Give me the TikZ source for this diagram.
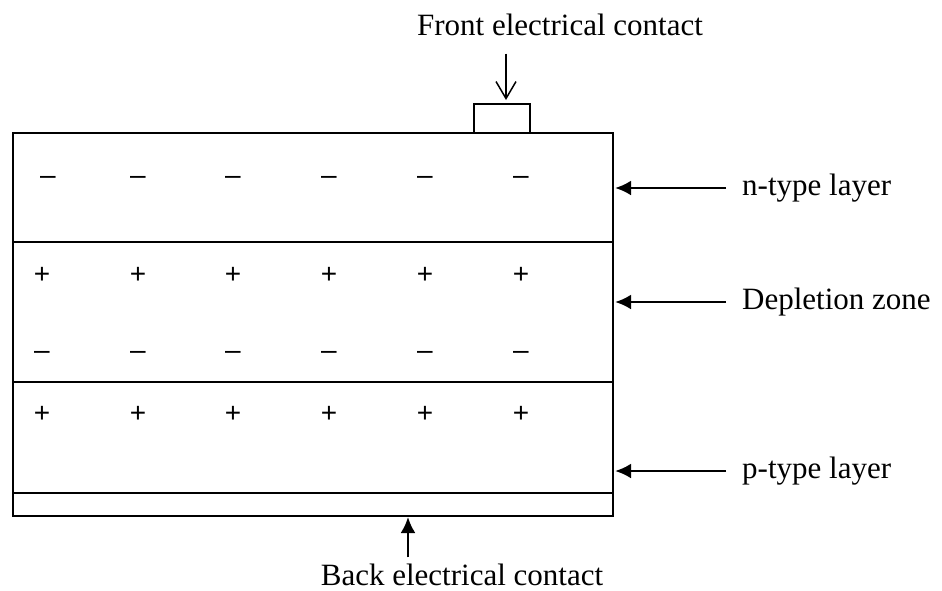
\documentclass[tikz,border=0pt]{standalone}
\usepackage{fontspec}
\setmainfont{Liberation Serif}
\newfontfamily\chargefont{Liberation Sans}
\usetikzlibrary{arrows.meta,positioning}

\tikzset{
  layer/.style={line width=2.5pt},
  lbl/.style={font=\fontsize{31}{34}\selectfont, inner sep=0pt},
  charge/.style={font=\chargefont\fontsize{28}{30}\selectfont, inner sep=0pt, anchor=base},
  pointer/.style={line width=2.8pt, -{Latex[length=16pt,width=15pt]}},
  thinpointer/.style={line width=1.5pt, -{Straight Barb[length=17pt,width=20pt]}},
}

\begin{document}
\begin{tikzpicture}[x=1pt, y=-1pt]
  \useasboundingbox (0,0) rectangle (942,590);

  % Cell body and layer boundaries
  \draw[layer] (13,133) rectangle (613,516);
  \draw[layer] (13,242) -- (613,242);
  \draw[layer] (13,382) -- (613,382);
  \draw[layer] (13,493) -- (613,493);

  % Front contact pad
  \draw[layer] (474,133) -- (474,104) -- (530,104) -- (530,133);

  % Charges
  \foreach \x [count=\i] in {48,138,233,329,425,521}
    \node[charge] (nminus\i) at (\x,184) {\textendash};
  \foreach \x [count=\i] in {42,138,233,329,425,521} {
    \node[charge] (dplus\i) at (\x,283) {+};
    \node[charge] (dminus\i) at (\x,359) {\textendash};
    \node[charge] (pplus\i) at (\x,422) {+};
  }

  % Labels
  \node[lbl, anchor=base] (front) at (560,35) {Front electrical contact};
  \node[lbl, anchor=base] (back) at (462,585) {Back electrical contact};
  \node[lbl, anchor=west] (nlayer) at (742,188) {n-type layer};
  \node[lbl, anchor=west] (dzone) at (742,302) {Depletion zone};
  \node[lbl, anchor=west] (player) at (742,471) {p-type layer};

  % Arrow ends
  \coordinate (padtop) at (506,100);
  \coordinate (cellbottom) at (408,517);
  \coordinate (nedge) at (615,188);
  \coordinate (dedge) at (615,302);
  \coordinate (pedge) at (615,471);

  % Arrows
  \draw[thinpointer] (front.south -| padtop) ++(0,18) -- (padtop);
  \draw[pointer, line width=2.5pt] (back.north -| cellbottom) ++(0,-6) -- (cellbottom);
  \draw[pointer] ([xshift=-16pt]nlayer.west) -- (nedge);
  \draw[pointer] ([xshift=-16pt]dzone.west) -- (dedge);
  \draw[pointer] ([xshift=-16pt]player.west) -- (pedge);
\end{tikzpicture}
\end{document}
